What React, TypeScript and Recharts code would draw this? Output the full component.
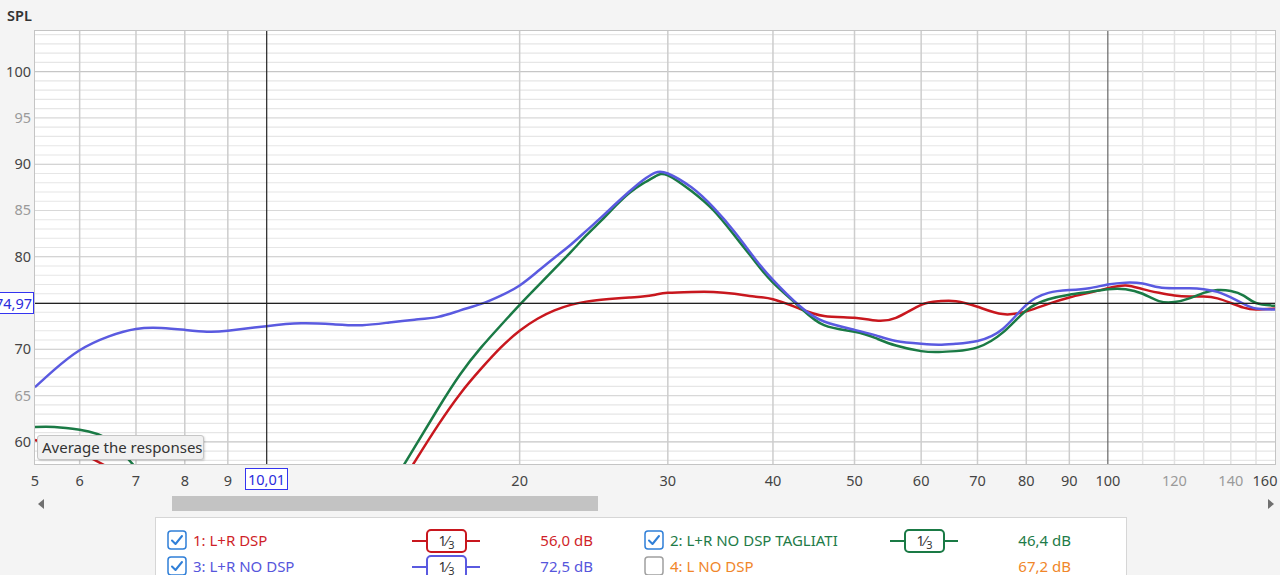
import React from "react";
import { LineChart, Line, XAxis, YAxis, ReferenceLine } from "recharts";

// frequency (Hz) and SPL (dB)
const freqs = [5.31, 5.6, 6, 6.5, 7, 7.5, 8, 8.5, 9, 10, 11, 12, 13, 14, 15, 16, 17, 18, 19, 20, 21, 22, 23, 24, 25, 26, 27, 28, 29, 30, 32, 34, 36, 38, 40, 43, 46, 50, 53, 56, 60, 63, 66, 70, 75, 80, 85, 90, 95, 100, 105, 110, 115, 120, 125, 130, 135, 140, 145, 150, 158];

const lrDsp = [60.2, 59.6, 58.8, 57.2, 55.5, 53.5, 51.5, 49.5, 47.5, 44.5, 43, 43.5, 48.8, 53.5, 57.8, 61.8, 65.2, 67.9, 70.2, 72.0, 73.3, 74.2, 74.8, 75.15, 75.35, 75.5, 75.6, 75.7, 75.9, 76.1, 76.2, 76.2, 76.0, 75.7, 75.4, 74.4, 73.6, 73.4, 73.1, 73.4, 74.8, 75.2, 75.2, 74.6, 73.8, 74.1, 74.9, 75.6, 76.1, 76.6, 76.9, 76.5, 76.1, 75.8, 75.7, 75.7, 75.5, 75.0, 74.5, 74.3, 74.4];

const lrNoDspTagliati = [61.6, 61.6, 61.3, 60.2, 57.2, 54.8, 52.5, 50.5, 48.5, 45.5, 44, 44.5, 49.8, 54.9, 59.4, 63.6, 67.3, 70.2, 72.6, 74.8, 76.8, 78.7, 80.5, 82.3, 83.9, 85.5, 86.9, 87.9, 88.7, 88.8, 87.1, 85.0, 82.3, 79.6, 77.2, 74.6, 72.6, 71.9, 71.2, 70.4, 69.8, 69.7, 69.8, 70.2, 71.8, 74.2, 75.4, 75.9, 76.2, 76.5, 76.5, 76.0, 75.2, 75.1, 75.5, 76.1, 76.4, 76.3, 75.8, 75.0, 74.7];

const lrNoDsp = [65.9, 67.8, 69.9, 71.4, 72.2, 72.3, 72.1, 71.9, 72.0, 72.5, 72.8, 72.7, 72.6, 72.9, 73.2, 73.5, 74.2, 74.9, 75.8, 76.9, 78.4, 79.9, 81.3, 82.8, 84.25, 85.7, 87.05, 88.25, 89.1, 89.0, 87.5, 85.3, 82.7, 79.9, 77.5, 74.7, 73.0, 72.1, 71.5, 70.9, 70.6, 70.5, 70.6, 70.9, 72.2, 74.8, 76.1, 76.4, 76.6, 77.0, 77.2, 77.1, 76.7, 76.6, 76.6, 76.5, 76.2, 75.6, 74.9, 74.4, 74.3];

const xTicks = [5.31, 6, 7, 8, 9, 20, 30, 40, 50, 60, 70, 80, 90, 100, 120, 140, 158];
const xTickLabels = ["5", "6", "7", "8", "9", "20", "30", "40", "50", "60", "70", "80", "90", "100", "120", "140", "160"];
const yTicks = [60, 65, 70, 80, 85, 90, 95, 100];

const vGrid = [6, 7, 8, 9, 20, 30, 40, 50, 60, 70, 80, 90];
const vGridFine = [110, 120, 130, 140, 150];
const hGrid = Array.from({ length: 47 }, (_, i) => 58 + i);

const cursorFreq = 10.01;
const cursorSpl = 74.97;

const data = freqs.map((f, i) => ({
  f,
  dsp: lrDsp[i],
  tagliati: lrNoDspTagliati[i],
  nodsp: lrNoDsp[i],
}));

const FONT = '"Noto Sans", "Open Sans", sans-serif';
const RED = "#c8171e";
const GREEN = "#1a7a45";
const BLUE = "#5a5ae0";

const renderXTick = (props: any) => {
  const { x, payload } = props;
  const i = xTicks.indexOf(payload.value);
  const label = xTickLabels[i] ?? String(payload.value);
  const light = label === "120" || label === "140";
  const px = label === "160" ? 1265 : x;
  return (
    <text x={px} y={486} textAnchor="middle" fontFamily={FONT} fontSize={14.5} fill={light ? "#9a9a9a" : "#444"}>
      {label}
    </text>
  );
};

const renderYTick = (props: any) => {
  const { y, payload } = props;
  const light = payload.value % 10 !== 0;
  return (
    <text x={31} y={y} dy={5} textAnchor="end" fontFamily={FONT} fontSize={14.5} fill={light ? "#9a9a9a" : "#444"}>
      {payload.value}
    </text>
  );
};

function CheckBox({ checked, left, top }: { checked: boolean; left: number; top: number }) {
  return (
    <svg width={20} height={20} style={{ position: "absolute", left, top }}>
      <rect x={1} y={1} width={18} height={18} rx={3} fill="#fff" stroke={checked ? "#2f7fd8" : "#a0a0a0"} strokeWidth={1.5} />
      {checked && <path d="M5 10.5 L8.5 14 L15 6" fill="none" stroke="#2f7fd8" strokeWidth={2} strokeLinecap="round" strokeLinejoin="round" />}
    </svg>
  );
}

function Smoothing({ left, top, color }: { left: number; top: number; color: string }) {
  return (
    <div style={{ position: "absolute", left, top, width: 68, height: 24 }}>
      <div style={{ position: "absolute", left: 0, top: 11, width: 68, height: 2, background: color }} />
      <div
        style={{
          position: "absolute", left: 14, top: 0, width: 37, height: 20, border: `2px solid ${color}`,
          borderRadius: 5, background: "#fff", fontFamily: FONT, fontSize: 14, color: "#333",
          textAlign: "center", lineHeight: "20px",
        }}
      >
        1⁄<span style={{ fontSize: 11, position: "relative", top: 3 }}>3</span>
      </div>
    </div>
  );
}

const legendRows = [
  { left: 167, top: 530, checked: true, name: "1: L+R DSP", color: "#cf1f2a", smooth: RED, value: "56,0 dB", iconLeft: 412, valueRight: 593 },
  { left: 644, top: 530, checked: true, name: "2: L+R NO DSP TAGLIATI", color: "#1e7b48", smooth: GREEN, value: "46,4 dB", iconLeft: 890, valueRight: 1071 },
  { left: 167, top: 556, checked: true, name: "3: L+R NO DSP", color: "#5656dc", smooth: BLUE, value: "72,5 dB", iconLeft: 412, valueRight: 593 },
  { left: 644, top: 556, checked: false, name: "4: L NO DSP", color: "#f0862a", smooth: "", value: "67,2 dB", iconLeft: 890, valueRight: 1071 },
];

export default function App() {
  return (
    <div style={{ position: "fixed", left: 0, top: 0, width: 1280, height: 575, overflow: "hidden", background: "#f4f4f4", fontFamily: FONT }}>
      <div style={{ position: "absolute", left: 7, top: 5, fontSize: 14.5, fontWeight: 600, color: "#333" }}>SPL</div>

      {/* plot background */}
      <div style={{ position: "absolute", left: 34, top: 30, width: 1240, height: 433, background: "#fff", border: "1px solid #c4c4c4" }} />

      <div style={{ position: "absolute", left: 0, top: 0 }}>
        <LineChart width={1280} height={575} data={data} margin={{ top: 31, right: 5, left: 0, bottom: 0 }}>
          <XAxis
            type="number"
            dataKey="f"
            scale="log"
            domain={[5.31, 158]}
            allowDataOverflow
            ticks={xTicks}
            interval={0}
            tick={renderXTick}
            axisLine={false}
            tickLine={false}
            height={111}
          />
          <YAxis
            type="number"
            domain={[57.6, 104.4]}
            allowDataOverflow
            ticks={yTicks}
            interval={0}
            tick={renderYTick}
            axisLine={false}
            tickLine={false}
            width={35}
          />

          {hGrid.map((v) => (
            <ReferenceLine
              key={"h" + v}
              y={v}
              stroke={v % 10 === 0 ? "#c6c6c6" : v % 5 === 0 ? "#d8d8d8" : "#e6e6e6"}
              strokeWidth={1.2}
            />
          ))}
          {vGrid.map((v) => (
            <ReferenceLine key={"v" + v} x={v} stroke="#cdcdcd" strokeWidth={1.5} />
          ))}
          {vGridFine.map((v) => (
            <ReferenceLine key={"vf" + v} x={v} stroke="#e2e2e2" strokeWidth={1.5} />
          ))}
          <ReferenceLine x={100} stroke="#666" strokeWidth={1.2} />

          <Line type="natural" dataKey="dsp" stroke={RED} strokeWidth={2.5} dot={false} isAnimationActive={false} />
          <Line type="natural" dataKey="tagliati" stroke={GREEN} strokeWidth={2.5} dot={false} isAnimationActive={false} />
          <Line type="natural" dataKey="nodsp" stroke={BLUE} strokeWidth={2.5} dot={false} isAnimationActive={false} />

          <ReferenceLine x={cursorFreq} stroke="#222" strokeWidth={1.2} />
          <ReferenceLine y={cursorSpl} stroke="#222" strokeWidth={1.2} />
        </LineChart>
      </div>

      {/* cursor readouts */}
      <div style={{ position: "absolute", left: 245, top: 468, width: 41, height: 20, border: "1px solid #3434f0", background: "#fff", color: "#2b2bdc", fontSize: 14.5, lineHeight: "20px", textAlign: "center" }}>
        10,01
      </div>
      <div style={{ position: "absolute", left: -9, top: 292, width: 40, height: 20, border: "1px solid #3434f0", background: "#fff", color: "#2b2bdc", fontSize: 14.5, lineHeight: "20px", textAlign: "right", paddingRight: 1 }}>
        74,97
      </div>

      {/* hover tooltip */}
      <div style={{ position: "absolute", left: 37, top: 435, width: 161, height: 23, border: "1px solid #c6c6c6", borderRadius: 3, background: "#f1f1f1", color: "#333", fontSize: 15, lineHeight: "23px", paddingLeft: 4, boxSizing: "content-box", boxShadow: "1px 1px 2px rgba(0,0,0,0.15)", whiteSpace: "nowrap" }}>
        Average the responses
      </div>

      {/* scrollbar */}
      <div style={{ position: "absolute", left: 172, top: 496, width: 426, height: 15, background: "#c3c3c3" }} />
      <svg width={1280} height={20} style={{ position: "absolute", left: 0, top: 494 }}>
        <path d="M38 10 L44 5 L44 15 Z" fill="#707070" />
        <path d="M1274 10 L1268 5 L1268 15 Z" fill="#707070" />
      </svg>

      {/* legend */}
      <div style={{ position: "absolute", left: 155, top: 517, width: 970, height: 80, background: "#fff", border: "1px solid #d6d6d6" }} />
      {legendRows.map((r) => (
        <React.Fragment key={r.name}>
          <CheckBox checked={r.checked} left={r.left} top={r.top} />
          <div style={{ position: "absolute", left: r.left + 26, top: r.top, fontSize: 15, lineHeight: "20px", color: r.color, whiteSpace: "nowrap" }}>
            {r.name}
          </div>
          {r.smooth && <Smoothing left={r.iconLeft} top={r.top - 1} color={r.smooth} />}
          <div style={{ position: "absolute", left: r.valueRight - 100, width: 100, top: r.top, fontSize: 15, lineHeight: "20px", color: r.color, textAlign: "right" }}>
            {r.value}
          </div>
        </React.Fragment>
      ))}
    </div>
  );
}
